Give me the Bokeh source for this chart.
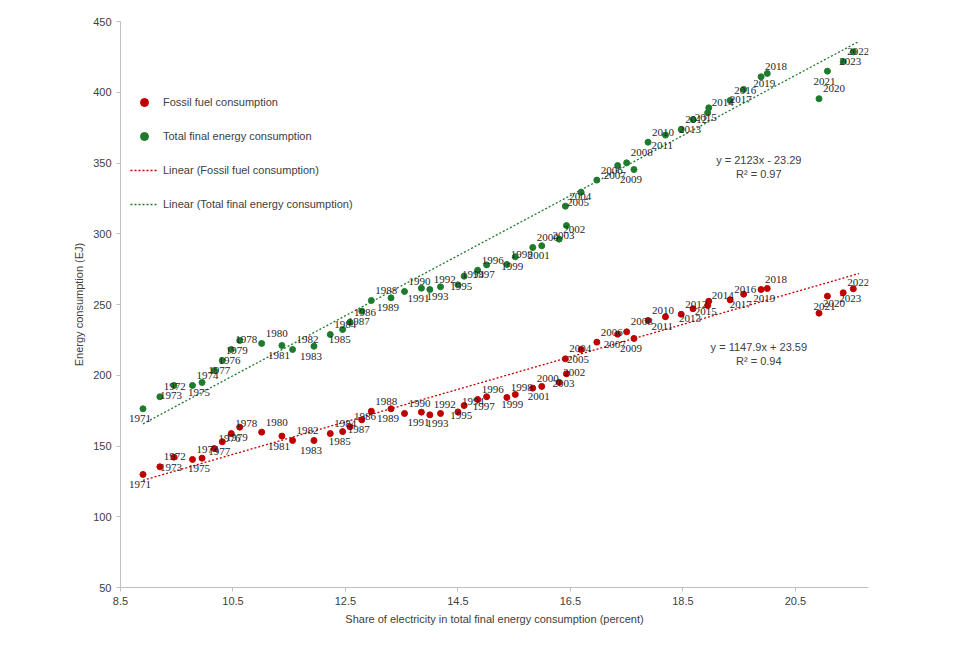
from bokeh.plotting import figure
from bokeh.models import ColumnDataSource, FixedTicker, Legend, LegendItem, Label
from bokeh.embed import file_html
from bokeh.resources import INLINE
import numpy as np

years = list(range(1971, 2024))
share = [8.90, 9.20, 9.45, 9.78, 9.95, 10.17, 10.31, 10.47, 10.62, 11.01, 11.37, 11.56, 11.94, 12.23,
         12.45, 12.58, 12.79, 12.96, 13.31, 13.55, 13.85, 14.00, 14.19, 14.50, 14.61, 14.85, 15.01,
         15.37, 15.52, 15.83, 15.99, 16.30, 16.43, 16.41, 16.69, 16.97, 17.34, 17.50, 17.63, 17.88,
         18.19, 18.47, 18.68, 18.94, 18.96, 19.34, 19.58, 19.89, 20.00, 20.92, 21.07, 21.35, 21.53]
fossil = [129.9, 135.3, 142.1, 140.5, 141.4, 148.2, 153.0, 158.8, 163.3, 159.8, 157.0, 153.9, 153.9,
          158.8, 160.2, 163.6, 168.5, 174.6, 176.3, 173.0, 173.9, 172.0, 173.0, 174.1, 178.6, 182.9,
          184.8, 184.3, 186.4, 190.9, 192.1, 194.9, 201.0, 211.6, 218.2, 223.4, 229.0, 230.7, 226.0,
          238.7, 241.3, 243.1, 247.0, 249.3, 252.3, 253.3, 257.3, 260.6, 261.3, 243.9, 255.9, 258.3, 261.1]
total = [176.3, 184.8, 192.8, 192.8, 194.9, 203.4, 210.4, 218.2, 224.6, 222.5, 221.0, 218.2, 220.5,
         228.8, 232.3, 237.5, 245.3, 252.8, 254.7, 259.2, 261.5, 260.6, 262.5, 263.9, 270.0, 274.2,
         278.0, 278.3, 283.7, 290.3, 291.5, 296.2, 305.8, 319.5, 329.4, 337.9, 348.2, 350.1, 345.4,
         364.7, 369.7, 373.7, 380.7, 385.5, 389.0, 394.2, 402.0, 410.9, 413.3, 395.4, 414.9, 421.7, 428.6]
fit_total = (2123.0, -23.29)
fit_fossil = (1147.9, 23.59)
y_ticks = [50, 100, 150, 200, 250, 300, 350, 400, 450]
x_ticks = [8.5, 10.5, 12.5, 14.5, 16.5, 18.5, 20.5]

RED = "#c00000"
GREEN = "#1e7b2e"
FONT = "Liberation Sans"

p = figure(width=888, height=640, output_backend="svg", toolbar_location=None,
           x_range=(8.5, 21.8), y_range=(50, 450),
           min_border_left=120, min_border_right=20, min_border_top=21, min_border_bottom=53)
p.grid.visible = False
p.outline_line_color = None
for ax in (p.xaxis, p.yaxis):
    ax.axis_line_color = "#bfbfbf"
    ax.major_tick_line_color = "#bfbfbf"
    ax.minor_tick_line_color = None
    ax.major_tick_in = 0
    ax.major_tick_out = 4
    ax.major_label_text_font = FONT
    ax.major_label_text_font_size = "11px"
    ax.major_label_text_color = "#404040"
    ax.axis_label_text_font = FONT
    ax.axis_label_text_font_size = "11px"
    ax.axis_label_text_font_style = "normal"
    ax.axis_label_text_color = "#404040"
p.yaxis.ticker = FixedTicker(ticks=y_ticks)
p.xaxis.ticker = FixedTicker(ticks=x_ticks)
p.xaxis.axis_label = "Share of electricity in total final energy consumption (percent)"
p.yaxis.axis_label = "Energy consumption (EJ)"

xs = np.array(share)
xl = np.array([xs.min(), xs.max() + 0.1])
src = ColumnDataSource(dict(x=share, f=fossil, t=total, yr=[str(y) for y in years]))

lt = p.line(xl, fit_total[0] * xl / 100 + fit_total[1], line_color=GREEN, line_dash="2 2", line_width=1.3)
lf = p.line(xl, fit_fossil[0] * xl / 100 + fit_fossil[1], line_color=RED, line_dash="2 2", line_width=1.3)
cf = p.scatter("x", "f", source=src, size=6, color=RED)
ct = p.scatter("x", "t", source=src, size=6, color=GREEN)

n = len(years)
dy = [10 if i % 2 == 0 else -10 for i in range(n)]
dx = [-14 if i % 2 == 0 else 4 for i in range(n)]
for col in ("f", "t"):
    s = ColumnDataSource(dict(x=share, y=src.data[col], yr=[str(y) for y in years],
                              dx=dx, dy=dy))
    p.text("x", "y", text="yr", source=s, x_offset="dx", y_offset="dy",
           text_font_size="11px", text_color="#262626", text_baseline="middle",
           text_font=FONT)

legend = Legend(items=[
    LegendItem(label="Fossil fuel consumption", renderers=[cf]),
    LegendItem(label="Total final energy consumption", renderers=[ct]),
    LegendItem(label="Linear (Fossil fuel consumption)", renderers=[lf]),
    LegendItem(label="Linear (Total final energy consumption)", renderers=[lt]),
], location=(10, 373), spacing=14, label_text_font=FONT, label_text_font_size="11px",
    label_text_color="#404040", border_line_color=None, background_fill_alpha=0, glyph_width=28,
    margin=0, padding=0)
p.add_layout(legend, "center")

for txt, x, y in [("y = 2123x - 23.29", 19.85, 352), ("R² = 0.97", 19.85, 342),
                  ("y = 1147.9x + 23.59", 19.85, 220), ("R² = 0.94", 19.85, 210)]:
    p.add_layout(Label(x=x, y=y, text=txt, text_font=FONT, text_font_size="11px",
                       text_color="#404040", text_align="center", text_baseline="middle"))

open("out.html", "w").write(file_html(p, INLINE))
